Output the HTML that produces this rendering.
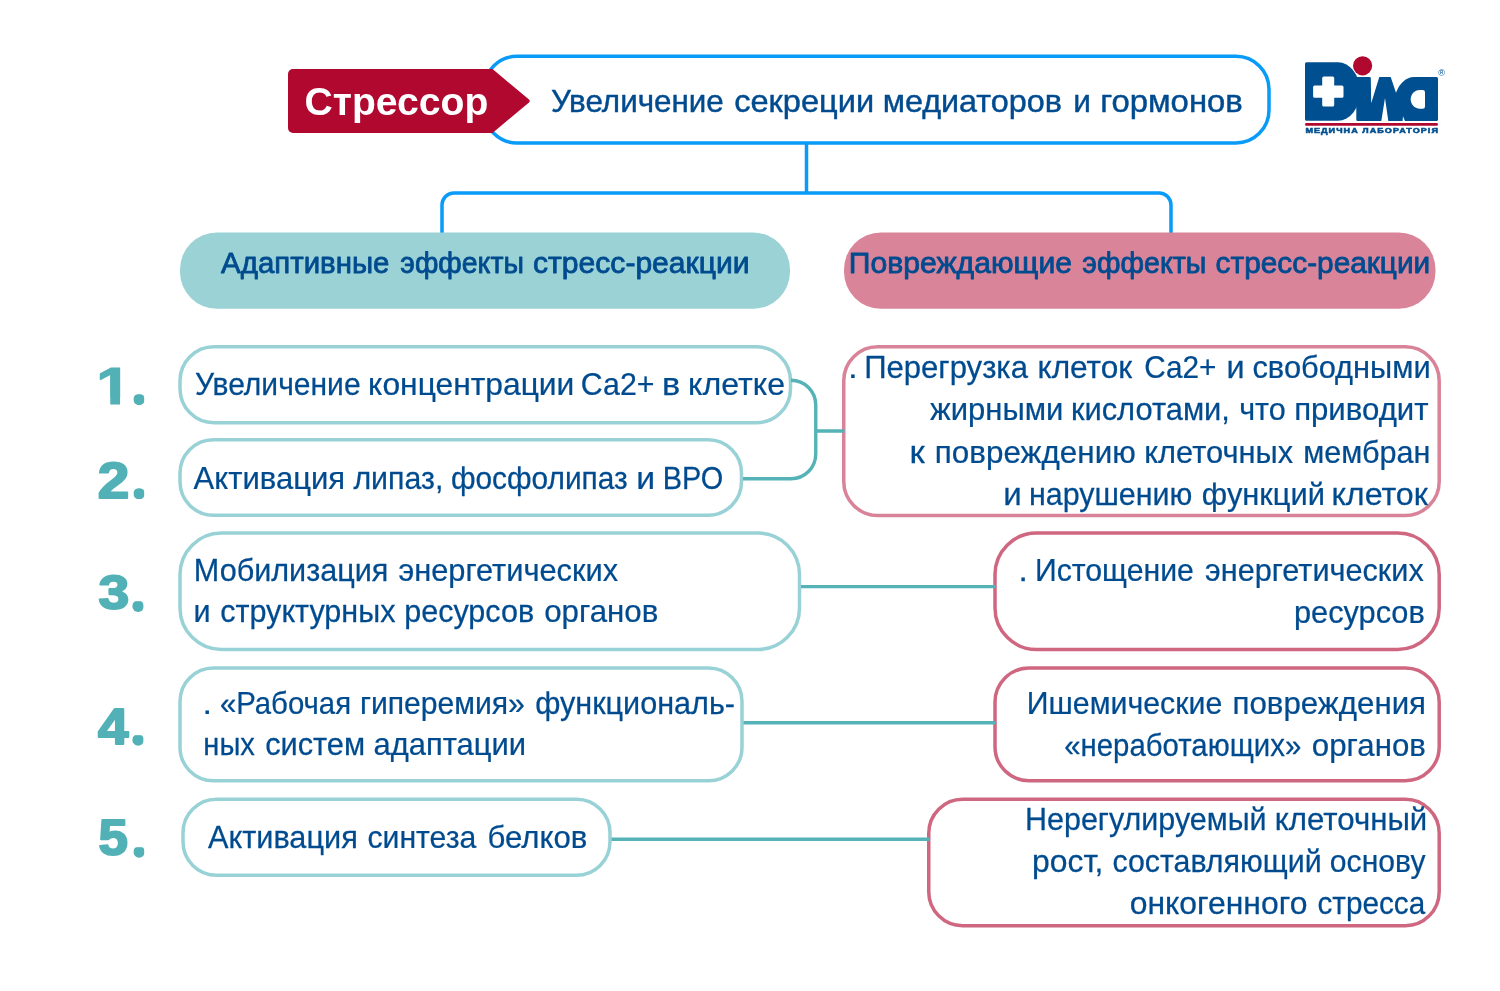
<!DOCTYPE html>
<html lang="ru"><head><meta charset="utf-8"><title>Стрессор</title>
<style>
html,body{margin:0;padding:0;background:#fff;}
body{width:1500px;height:991px;overflow:hidden;}
svg{display:block;will-change:transform;font-family:"Liberation Sans",sans-serif;}
text{white-space:pre;}
</style></head><body>
<svg width="1500" height="991" viewBox="0 0 1500 991">
<rect width="1500" height="991" fill="#ffffff"/>

<!-- header box -->
<rect x="484" y="56.3" width="785.00" height="86.70" rx="33" ry="33" fill="#ffffff" stroke="#089bf8" stroke-width="3.5"/>
<path d="M806.5 143V193M442 233V205A12 12 0 0 1 454 193H1159A12 12 0 0 1 1171 205V233" fill="none" stroke="#089bf8" stroke-width="3.5"/>
<path d="M293 69H492.5L529 99.6Q530.6 101 529 102.4L492.5 133H293A5 5 0 0 1 288 128V74A5 5 0 0 1 293 69Z" fill="#b0082f"/>
<!-- pills -->
<rect x="180" y="232.5" width="610" height="76.25" rx="37" fill="#9ad2d6"/>
<rect x="844" y="232.5" width="591.5" height="76.25" rx="37" fill="#d98499"/>
<!-- left boxes -->
<rect x="180" y="346.75" width="610.50" height="76.00" rx="34" ry="34" fill="none" stroke="#98d2d6" stroke-width="3.5"/>
<rect x="180" y="439.75" width="561.50" height="75.50" rx="33.5" ry="33.5" fill="none" stroke="#98d2d6" stroke-width="3.5"/>
<rect x="180" y="533" width="619.50" height="116.50" rx="41.5" ry="41.5" fill="none" stroke="#98d2d6" stroke-width="3.5"/>
<rect x="180" y="668" width="562.00" height="112.75" rx="33.5" ry="33.5" fill="none" stroke="#98d2d6" stroke-width="3.5"/>
<rect x="183" y="799.25" width="427.00" height="76.00" rx="33.5" ry="33.5" fill="none" stroke="#98d2d6" stroke-width="3.5"/>
<!-- right boxes -->
<rect x="843.75" y="346.75" width="595.45" height="168.75" rx="34" ry="34" fill="none" stroke="#d98398" stroke-width="3.5"/>
<rect x="995" y="533" width="444.20" height="116.50" rx="41.5" ry="41.5" fill="none" stroke="#cf6781" stroke-width="3.5"/>
<rect x="995" y="668" width="444.20" height="112.75" rx="34" ry="34" fill="none" stroke="#cf6781" stroke-width="3.5"/>
<rect x="928.75" y="799.25" width="510.45" height="126.50" rx="34" ry="34" fill="none" stroke="#cf6781" stroke-width="3.5"/>
<!-- connectors -->
<path d="M791 380.25A24.75 24.75 0 0 1 815.75 405V454A24.75 24.75 0 0 1 791 478.75H743M815.75 431H844.5M801 586.6H995.5M743.5 722.7H995.5M611.5 839.2H929.5" fill="none" stroke="#55b3b7" stroke-width="3.4"/>


<g id="logo">
<path d="M1306.5 62.2H1338A22 29.3 0 0 1 1338 120.8H1306.5Q1305 120.8 1305 119.3V63.7Q1305 62.2 1306.5 62.2Z" fill="#004f90"/>
<path d="M1356.3 77H1369.8Q1370.8 77 1370.8 78L1371.2 103.3L1379.3 77H1390.7L1396 92.7C1399.5 83.5 1406 77 1414 77H1436.5Q1438 77 1438 78.5V119.5Q1438 121 1436.5 121H1405C1404 119 1403.4 117.5 1403 116L1402.6 121H1388.3L1385 98L1381.3 121H1357.8Q1356.3 121 1356.3 119.5Z" fill="#004f90"/>
<path d="M1425 92.2V106.5Q1425 108.7 1422.8 108.7H1419.8C1414.3 108.7 1410.7 104.2 1410.7 99.35C1410.7 94.5 1414.3 90 1419.8 90H1422.8Q1425 90 1425 92.2Z" fill="#fff"/>
<path d="M1323.7 76.4H1332.7Q1334.2 76.4 1334.2 77.9V85.6H1342Q1343.5 85.6 1343.5 87.1V96.2Q1343.5 97.7 1342 97.7H1334.2V105.1Q1334.2 106.6 1332.7 106.6H1323.7Q1322.2 106.6 1322.2 105.1V97.7H1314.6Q1313.1 97.7 1313.1 96.2V87.1Q1313.1 85.6 1314.6 85.6H1322.2V77.9Q1322.2 76.4 1323.7 76.4Z" fill="#fff"/>
<circle cx="1362.6" cy="65.8" r="10.3" fill="#fff"/>
<circle cx="1362.6" cy="65.8" r="9.6" fill="#b0082f"/>
<path d="M1306.4 124.4H1436.6" stroke="#b0082f" stroke-width="2.7" stroke-linecap="round"/>
</g>

<text transform="translate(304.57 115.00) scale(1.0296 1)" font-size="38" font-weight="bold" fill="#ffffff">Стрессор</text>
<text transform="translate(1438.20 75.90) scale(0.9714 0.9714)" font-size="9.5" fill="#004f90">®</text>
<text transform="translate(96.26 403.96) scale(1.2274 1.0095)" font-size="51" font-weight="bold" fill="#52b1b6" stroke="#52b1b6" stroke-width="1.2" stroke-linejoin="round">1</text><rect x="96" y="397.51" width="14.27" height="9.49" fill="#fff"/><rect x="120.06" y="397.51" width="11.94" height="9.49" fill="#fff"/>
<text transform="translate(97.79 497.85) scale(1.1135 0.9649)" font-size="51" font-weight="bold" fill="#52b1b6" stroke="#52b1b6" stroke-width="2.0" stroke-linejoin="round">2</text>
<text transform="translate(98.57 609.41) scale(1.0846 0.9395)" font-size="51" font-weight="bold" fill="#52b1b6" stroke="#52b1b6" stroke-width="2.0" stroke-linejoin="round">3</text>
<text transform="translate(97.90 744.10) scale(1.0759 0.9778)" font-size="51" font-weight="bold" fill="#52b1b6" stroke="#52b1b6" stroke-width="2.0" stroke-linejoin="round">4</text>
<text transform="translate(98.61 855.14) scale(1.0365 0.9649)" font-size="51" font-weight="bold" fill="#52b1b6" stroke="#52b1b6" stroke-width="2.0" stroke-linejoin="round">5</text>
<clipPath id="d405"><circle cx="139.12" cy="399.40" r="5.74"/></clipPath><g clip-path="url(#d405)"><text transform="translate(128.29 405.20) scale(1.0318 0.9667)" font-size="74" font-weight="bold" fill="#52b1b6">.</text></g>
<clipPath id="d499"><circle cx="139.12" cy="493.65" r="5.74"/></clipPath><g clip-path="url(#d499)"><text transform="translate(128.29 499.45) scale(1.0318 0.9667)" font-size="74" font-weight="bold" fill="#52b1b6">.</text></g>
<clipPath id="d611"><circle cx="138.12" cy="606.15" r="5.86"/></clipPath><g clip-path="url(#d611)"><text transform="translate(126.81 611.95) scale(1.0773 0.9667)" font-size="74" font-weight="bold" fill="#52b1b6">.</text></g>
<clipPath id="d745"><circle cx="138.12" cy="739.90" r="5.86"/></clipPath><g clip-path="url(#d745)"><text transform="translate(126.81 745.70) scale(1.0773 0.9667)" font-size="74" font-weight="bold" fill="#52b1b6">.</text></g>
<clipPath id="d857"><circle cx="139.12" cy="851.90" r="5.74"/></clipPath><g clip-path="url(#d857)"><text transform="translate(128.29 857.70) scale(1.0318 0.9667)" font-size="74" font-weight="bold" fill="#52b1b6">.</text></g>
<g font-size="32" fill="#004b8f" stroke="#004b8f" stroke-width="0.45" stroke-linejoin="round"><text transform="translate(550.95 111.5) scale(0.9808 1)">Увеличение </text><text transform="translate(734.18 111.5) scale(1.0186 1)">секреции </text><text transform="translate(882.68 111.5) scale(1.0110 1)">медиаторов </text><text transform="translate(1073.22 111.5) scale(0.9889 1)">и </text><text transform="translate(1100.15 111.5) scale(1.0277 1)">гормонов</text></g>
<g font-size="29" fill="#004b8f" stroke="#004b8f" stroke-width="0.8" stroke-linejoin="round"><text transform="translate(221.11 273) scale(1.0148 1)">Адаптивные </text><text transform="translate(400.36 273) scale(0.9826 1)">эффекты </text><text transform="translate(533.07 273) scale(1.0373 1)">стресс-реакции</text></g>
<g font-size="29" fill="#004b8f" stroke="#004b8f" stroke-width="0.8" stroke-linejoin="round"><text transform="translate(848.78 273) scale(1.0400 1)">Повреждающие </text><text transform="translate(1082.36 273) scale(0.9866 1)">эффекты </text><text transform="translate(1215.58 273) scale(1.0288 1)">стресс-реакции</text></g>
<g font-size="32" fill="#004b8f" stroke="#004b8f" stroke-width="0.25" stroke-linejoin="round"><text transform="translate(195.11 395) scale(0.9391 1)">Увеличение </text><text transform="translate(368.12 395) scale(0.9939 1)">концентрации </text><text transform="translate(580.86 395) scale(0.9476 1)">Са2+ </text><text transform="translate(661.97 395) scale(1.0696 1)">в </text><text transform="translate(688.10 395) scale(1.0053 1)">клетке</text></g>
<g font-size="32" fill="#004b8f" stroke="#004b8f" stroke-width="0.25" stroke-linejoin="round"><text transform="translate(193.61 489) scale(0.9703 1)">Активация </text><text transform="translate(353.41 489) scale(0.9483 1)">липаз, </text><text transform="translate(450.88 489) scale(0.9335 1)">фосфолипаз </text><text transform="translate(636.30 489) scale(1.0554 1)">и </text><text transform="translate(662.81 489) scale(0.9030 1)">ВРО</text></g>
<g font-size="32" fill="#004b8f" stroke="#004b8f" stroke-width="0.25" stroke-linejoin="round"><text transform="translate(193.80 580.6) scale(0.9563 1)">Мобилизация </text><text transform="translate(398.41 580.6) scale(0.9632 1)">энергетических</text></g>
<g font-size="32" fill="#004b8f" stroke="#004b8f" stroke-width="0.25" stroke-linejoin="round"><text transform="translate(193.60 622) scale(0.9554 1)">и </text><text transform="translate(220.16 622) scale(0.9556 1)">структурных </text><text transform="translate(404.20 622) scale(0.9541 1)">ресурсов </text><text transform="translate(544.13 622) scale(0.9778 1)">органов</text></g>
<g font-size="32" fill="#004b8f" stroke="#004b8f" stroke-width="0.25" stroke-linejoin="round"><text transform="translate(202.48 713.75) scale(1.0688 1)">. </text><text transform="translate(219.90 713.75) scale(0.9169 1)">«Рабочая </text><text transform="translate(359.93 713.75) scale(0.9415 1)">гиперемия» </text><text transform="translate(535.16 713.75) scale(0.9562 1)">функциональ-</text></g>
<g font-size="32" fill="#004b8f" stroke="#004b8f" stroke-width="0.25" stroke-linejoin="round"><text transform="translate(203.29 755) scale(0.9104 1)">ных </text><text transform="translate(265.15 755) scale(0.9614 1)">систем </text><text transform="translate(373.45 755) scale(0.9670 1)">адаптации</text></g>
<g font-size="32" fill="#004b8f" stroke="#004b8f" stroke-width="0.25" stroke-linejoin="round"><text transform="translate(207.91 847.5) scale(0.9600 1)">Активация </text><text transform="translate(367.47 847.5) scale(0.9439 1)">синтеза </text><text transform="translate(487.44 847.5) scale(0.9746 1)">белков</text></g>
<g font-size="32" fill="#004b8f" stroke="#004b8f" stroke-width="0.25" stroke-linejoin="round"><text transform="translate(847.92 377.5) scale(1.0938 1)">. </text><text transform="translate(864.17 377.5) scale(0.9712 1)">Перегрузка </text><text transform="translate(1037.44 377.5) scale(0.9886 1)">клеток </text><text transform="translate(1144.18 377.5) scale(0.9305 1)">Са2+ </text><text transform="translate(1226.39 377.5) scale(1.0125 1)">и </text><text transform="translate(1252.45 377.5) scale(0.9631 1)">свободными</text></g>
<g font-size="32" fill="#004b8f" stroke="#004b8f" stroke-width="0.25" stroke-linejoin="round"><text transform="translate(929.91 420) scale(0.9700 1)">жирными </text><text transform="translate(1070.88 420) scale(0.9652 1)">кислотами, </text><text transform="translate(1239.16 420) scale(0.9533 1)">что </text><text transform="translate(1294.16 420) scale(0.9743 1)">приводит</text></g>
<g font-size="32" fill="#004b8f" stroke="#004b8f" stroke-width="0.25" stroke-linejoin="round"><text transform="translate(909.53 462.5) scale(1.0904 1)">к </text><text transform="translate(934.85 462.5) scale(0.9816 1)">повреждению </text><text transform="translate(1144.18 462.5) scale(0.9644 1)">клеточных </text><text transform="translate(1303.20 462.5) scale(0.9568 1)">мембран</text></g>
<g font-size="32" fill="#004b8f" stroke="#004b8f" stroke-width="0.25" stroke-linejoin="round"><text transform="translate(1003.34 505) scale(1.0339 1)">и </text><text transform="translate(1028.91 505) scale(0.9518 1)">нарушению </text><text transform="translate(1201.85 505) scale(0.9642 1)">функций </text><text transform="translate(1331.40 505) scale(1.0065 1)">клеток</text></g>
<g font-size="32" fill="#004b8f" stroke="#004b8f" stroke-width="0.25" stroke-linejoin="round"><text transform="translate(1018.62 580.5) scale(1.0437 1)">. </text><text transform="translate(1034.92 580.5) scale(0.9454 1)">Истощение </text><text transform="translate(1205.11 580.5) scale(0.9588 1)">энергетических</text></g>
<g font-size="32" fill="#004b8f" stroke="#004b8f" stroke-width="0.25" stroke-linejoin="round"><text transform="translate(1293.94 622.5) scale(0.9612 1)">ресурсов</text></g>
<g font-size="32" fill="#004b8f" stroke="#004b8f" stroke-width="0.25" stroke-linejoin="round"><text transform="translate(1026.72 713.5) scale(0.9474 1)">Ишемические </text><text transform="translate(1232.46 713.5) scale(0.9779 1)">повреждения</text></g>
<g font-size="32" fill="#004b8f" stroke="#004b8f" stroke-width="0.25" stroke-linejoin="round"><text transform="translate(1064.19 755.5) scale(0.9178 1)">«неработающих» </text><text transform="translate(1311.84 755.5) scale(0.9760 1)">органов</text></g>
<g font-size="32" fill="#004b8f" stroke="#004b8f" stroke-width="0.25" stroke-linejoin="round"><text transform="translate(1025.01 830.2) scale(0.9523 1)">Нерегулируемый </text><text transform="translate(1274.86 830.2) scale(0.9749 1)">клеточный</text></g>
<g font-size="32" fill="#004b8f" stroke="#004b8f" stroke-width="0.25" stroke-linejoin="round"><text transform="translate(1032.12 871.8) scale(0.9966 1)">рост, </text><text transform="translate(1112.46 871.8) scale(0.9484 1)">составляющий </text><text transform="translate(1329.87 871.8) scale(0.9415 1)">основу</text></g>
<g font-size="32" fill="#004b8f" stroke="#004b8f" stroke-width="0.25" stroke-linejoin="round"><text transform="translate(1129.72 914.2) scale(0.9965 1)">онкогенного </text><text transform="translate(1317.48 914.2) scale(0.9291 1)">стресса</text></g>
<text transform="translate(1305.42 133.3) scale(1.2963 1.1)" font-size="7.0" font-weight="bold" letter-spacing="0.8" fill="#004f90" stroke="#004f90" stroke-width="0.5">МЕДИЧНА ЛАБОРАТОРІЯ</text>
</svg>
</body></html>
